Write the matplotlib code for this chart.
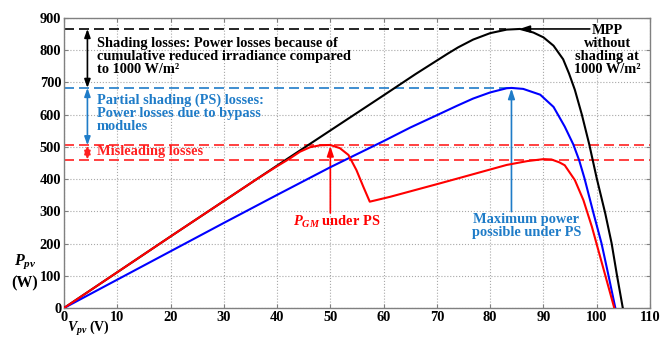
import matplotlib
matplotlib.use('Agg')
import matplotlib.pyplot as plt

plt.rcParams['font.family'] = ['Liberation Serif', 'DejaVu Serif']
plt.rcParams['font.weight'] = 'bold'
plt.rcParams['mathtext.fontset'] = 'custom'
plt.rcParams['mathtext.rm'] = 'Liberation Serif:bold'
plt.rcParams['mathtext.it'] = 'Liberation Serif:italic:bold'
plt.rcParams['mathtext.bf'] = 'Liberation Serif:bold'

# ---- data ----
v_black = [0, 10, 20, 30, 40, 50, 60, 66, 70, 72, 74, 76.8, 80, 83.1, 85.6, 88.1, 90, 91.9, 93.7,
           94.8, 95.9, 97.2, 98.6, 100, 101.6, 102.8, 103.8, 104.9]
p_black = [0, 111, 222, 332, 442, 551, 660, 726, 768, 789, 809, 833, 853, 864, 866, 855, 840, 814, 772,
           728, 677, 601, 508, 403, 294, 201, 102, 0]

v_blue = [0, 10, 20, 30, 40, 50, 60, 65, 70.6, 73.7, 76.8, 80, 83.1, 84, 86.2, 89.4, 91.9, 94.0,
          95.6, 96.7, 97.7, 99.4, 100.9, 102.2, 103.5]
p_blue = [0, 88, 176, 264, 351, 437, 518, 560, 603, 627, 650, 669, 682, 683, 680, 662, 624, 563,
          508, 459, 403, 294, 201, 102, 0]

v_red = [0, 10, 20, 30, 36, 40, 42.4, 44.3, 46.2, 48.1, 50, 51.8, 53.4, 54.9, 56.2, 57.4,
         61.2, 65, 70.6, 75, 83.1, 87, 90, 91.5, 93, 94, 95.9, 97.5, 99.1, 100.3, 101.6, 103.3]
p_red = [0, 111, 222, 332, 398, 440, 464, 485, 499, 505, 506, 496, 475, 428, 376, 330,
         345, 362, 387, 407, 444, 456, 462, 461, 452, 443, 397, 335, 252, 180, 102, 0]

mpp_level = 866      # MPP without shading
ps_level = 683       # max power possible under PS
gm_level = 505       # P_GM under PS (first peak)
lm_level = 460       # local max under PS
v_mpp = 84
v_gm = 50

x_ticks = list(range(0, 111, 10))
y_ticks = list(range(0, 901, 100))

BLUE_TXT = '#1f7cc8'
FS = 10.4

fig = plt.figure(figsize=(6.7, 3.39), dpi=100)
ax = fig.add_axes([0.0955, 0.0914, 0.8746, 0.8555])

ax.set_xlim(0, 110)
ax.set_ylim(0, 900)
ax.set_xticks(x_ticks)
ax.set_yticks(y_ticks)
ax.grid(True, linestyle=':', color='#a8a8a8', linewidth=0.8)
ax.tick_params(direction='in', length=3, width=0.8, colors='#808080',
               labelcolor='black', labelsize=FS, top=True, right=True, pad=2)
for lab in ax.get_xticklabels() + ax.get_yticklabels():
    lab.set_fontweight('bold')
for s in ax.spines.values():
    s.set_color('#808080')
    s.set_linewidth(1.0)

dash = (0, (6, 3))
# reference levels
ax.plot([0, 83], [mpp_level, mpp_level], color='black', lw=1.2, linestyle=dash)
ax.plot([0, v_mpp], [ps_level, ps_level], color=BLUE_TXT, lw=1.2, linestyle=dash)
ax.plot([0, 110], [gm_level, gm_level], color='#ff2020', lw=1.2, linestyle=dash)
ax.plot([0, 110], [lm_level, lm_level], color='#ff2020', lw=1.2, linestyle=dash)

# curves
ax.plot(v_black, p_black, color='black', lw=1.5, zorder=5)
ax.plot(v_blue, p_blue, color='#0000ff', lw=1.5, zorder=5)
ax.plot(v_red, p_red, color='#ff0000', lw=1.5, zorder=6)

def darrow(x, y0, y1, col):
    ax.annotate('', xy=(x, y1), xytext=(x, y0),
                arrowprops=dict(arrowstyle='<|-|>,head_length=0.5,head_width=0.18',
                                color=col, lw=1.2, shrinkA=0, shrinkB=0))

darrow(4.4, ps_level, mpp_level, 'black')
darrow(4.4, gm_level, ps_level, BLUE_TXT)
darrow(4.4, lm_level, gm_level, '#ff2020')

ax.text(6.2, 842, 'Shading losses: Power losses because of\ncumulative reduced irradiance compared\nto 1000 W/m²',
        ha='left', va='top', fontsize=FS, fontweight='bold', color='black', linespacing=1.0)
ax.text(6.2, 666, 'Partial shading (PS) losses:\nPower losses due to bypass\nmodules',
        ha='left', va='top', fontsize=FS, fontweight='bold', color=BLUE_TXT, linespacing=1.0)
ax.text(6.2, 485, 'Misleading losses', ha='left', va='center', fontsize=FS,
        fontweight='bold', color='#ff2020')

# MPP arrow and label
ax.annotate('', xy=(85.5, mpp_level), xytext=(98.7, mpp_level),
            arrowprops=dict(arrowstyle='-|>,head_length=0.6,head_width=0.2',
                            color='black', lw=1.2, shrinkA=0, shrinkB=0))
ax.text(102, 880, 'MPP\nwithout\nshading at\n1000 W/m²', ha='center', va='top',
        fontsize=FS, fontweight='bold', color='black', linespacing=1.0)

# P_GM arrow and label
ax.annotate('', xy=(v_gm, gm_level - 2), xytext=(v_gm, 295),
            arrowprops=dict(arrowstyle='-|>,head_length=0.6,head_width=0.2',
                            color='#ff0000', lw=1.2, shrinkA=0, shrinkB=0))
ax.text(51.2, 266, r'$P_{GM}$ under PS', ha='center', va='center', fontsize=FS,
        fontweight='bold', color='#ff0000')

# max power arrow and label
ax.annotate('', xy=(v_mpp, ps_level - 2), xytext=(v_mpp, 299),
            arrowprops=dict(arrowstyle='-|>,head_length=0.6,head_width=0.2',
                            color=BLUE_TXT, lw=1.2, shrinkA=0, shrinkB=0))
ax.text(86.8, 253, 'Maximum power\npossible under PS', ha='center', va='center',
        fontsize=FS, fontweight='bold', color=BLUE_TXT, linespacing=1.0)

# axis labels
fig.text(0.038, 0.227, r'$P_{pv}$', ha='center', va='center', fontsize=11.5, color='black')
fig.text(0.037, 0.165, '(W)', ha='center', va='center', fontsize=11.5, fontweight='bold', color='black')
fig.text(0.100, 0.004, r'$V_{pv}$ (V)', ha='left', va='bottom', fontsize=10, color='black')

fig.savefig('out.png', dpi=100)
